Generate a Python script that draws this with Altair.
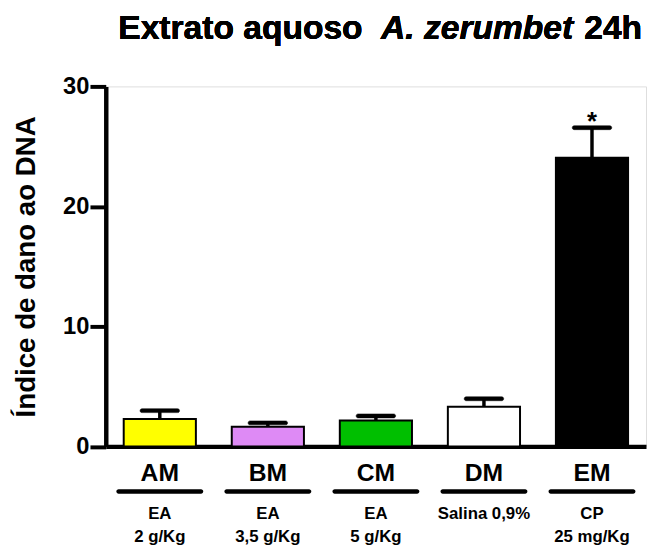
import altair as alt
import pandas as pd

groups = ["AM", "BM", "CM", "DM", "EM"]
means = [2.29, 1.63, 2.16, 3.31, 24.06]
err_top = [2.98, 1.96, 2.54, 3.97, 26.56]
colors = ["#FFFF00", "#DE8AF5", "#00BF00", "#FFFFFF", "#000000"]
line1 = ["EA", "EA", "EA", "Salina 0,9%", "CP"]
line2 = ["2 g/Kg", "3,5 g/Kg", "5 g/Kg", "", "25 mg/Kg"]
sig = ["", "", "", "", "*"]
y_ticks = [0, 10, 20, 30]

title_a = "Extrato aquoso"
title_b = "A. zerumbet"
title_c = "24h"
y_title = "Índice de dano ao DNA"

df = pd.DataFrame({
    "group": groups, "mean": means, "err": err_top, "color": colors,
    "l1": line1, "l2": line2, "sig": sig,
})

W, H = 547, 364.5
FONT = "Liberation Sans"

xenc = alt.X("group:N", sort=groups,
             scale=alt.Scale(paddingInner=0.332, paddingOuter=0.166),
             axis=alt.Axis(title=None, labelAngle=0, ticks=False, labelPadding=15,
                           labelFontSize=25, labelFontWeight="bold", labelFont=FONT,
                           labelColor="black", domainColor="black", domainWidth=4.5))
yenc = alt.Y("mean:Q", scale=alt.Scale(domain=[0, 30], nice=False),
             axis=alt.Axis(title=y_title, values=y_ticks, grid=False, tickSize=16,
                           tickWidth=4, tickColor="black", domainColor="black",
                           domainWidth=4.5, labelFontSize=24, labelFontWeight="bold",
                           labelFont=FONT, labelColor="black", labelPadding=1,
                           titleFontSize=28, titleFontWeight="bold", titleFont=FONT,
                           titleColor="black", titlePadding=22))

base = alt.Chart(df)

errline = base.mark_rule(color="black", strokeWidth=3.5, opacity=1).encode(
    x=xenc, y=yenc, y2="err:Q")
caps = base.mark_tick(color="black", fill="black", stroke="black", strokeWidth=0.5,
                      size=40, thickness=4, cornerRadius=2, opacity=1,
                      fillOpacity=1).encode(
    x=alt.X("group:N", sort=groups), y=alt.Y("err:Q"))
bars = base.mark_bar(stroke="black", strokeWidth=2, opacity=1).encode(
    x=alt.X("group:N", sort=groups), y=alt.Y("mean:Q"),
    fill=alt.Color("color:N", scale=None))
star = base.mark_text(font=FONT, fontSize=26, fontWeight="bold", baseline="alphabetic",
                      dy=2, color="black").encode(
    x=alt.X("group:N", sort=groups), y=alt.Y("err:Q"), text="sig:N")
underline = base.mark_bar(color="black", width=88, cornerRadius=2.5, opacity=1).encode(
    x=alt.X("group:N", sort=groups), y=alt.value(H + 43.5), y2=alt.value(H + 48))
sub1 = base.mark_text(font=FONT, fontSize=17, fontWeight="bold", baseline="middle",
                      color="black").encode(
    x=alt.X("group:N", sort=groups), y=alt.value(H + 69), text="l1:N")
sub2 = base.mark_text(font=FONT, fontSize=17, fontWeight="bold", baseline="middle",
                      color="black").encode(
    x=alt.X("group:N", sort=groups), y=alt.value(H + 92), text="l2:N")

t1 = alt.Chart(df).mark_text(text=title_a, font=FONT, fontSize=34, fontWeight="bold",
                             align="right", baseline="alphabetic", color="black").encode(
    x=alt.value(260), y=alt.value(-48))
t2 = alt.Chart(df).mark_text(text=title_b, font=FONT, fontSize=34, fontWeight="bold",
                             fontStyle="italic", align="center", baseline="alphabetic",
                             color="black").encode(
    x=alt.value(376), y=alt.value(-48))
t3 = alt.Chart(df).mark_text(text=title_c, font=FONT, fontSize=34, fontWeight="bold",
                             align="right", baseline="alphabetic", color="black").encode(
    x=alt.value(543), y=alt.value(-48))

chart = alt.layer(errline, caps, bars, star, underline, sub1, sub2, t1, t2, t3).properties(
    width=W, height=H,
    autosize=alt.AutoSizeParams(type="none"),
    padding={"left": 99, "top": 76, "right": 1, "bottom": 100},
).configure_view(stroke=None).configure(background="white")

chart.save("out.html", embed_options={"renderer": "svg", "actions": False})
